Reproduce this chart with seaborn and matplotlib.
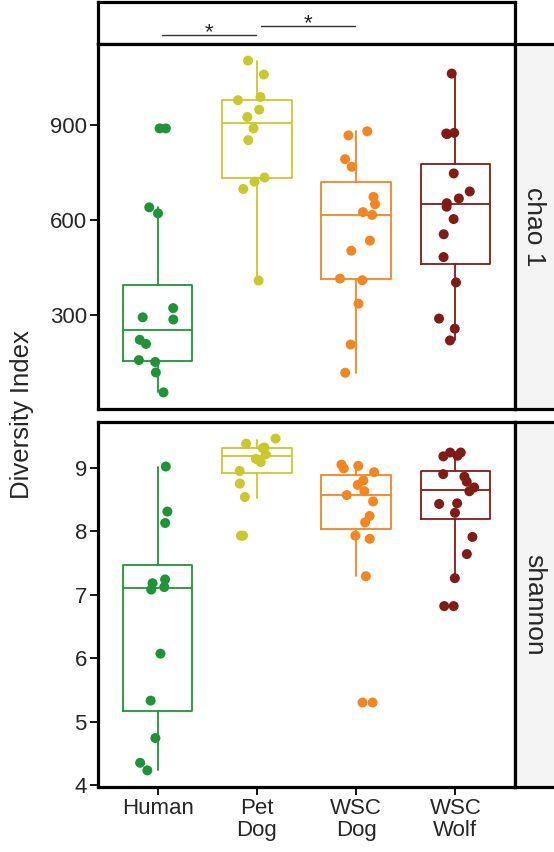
import numpy as np
import pandas as pd
import matplotlib
matplotlib.use('Agg')
import matplotlib.pyplot as plt
import seaborn as sns

# groups, labels and colours
groups = ['Human', 'Pet Dog', 'WSC Dog', 'WSC Wolf']
tick_labels = ['Human', 'Pet\nDog', 'WSC\nDog', 'WSC\nWolf']
colors = ['#1f9437', '#c9c92a', '#f5861f', '#821b16']
metrics = ['chao 1', 'shannon']

# chao 1 values per sample
human_chao1 = [890, 890, 641, 622, 323, 287, 294, 210, 223, 153, 159, 120, 57]
petdog_chao1 = [1104, 1060, 989, 979, 949, 926, 890, 853, 735, 722, 699, 410]
wscdog_chao1 = [881, 868, 793, 769, 674, 651, 626, 617, 536, 504, 416, 411, 337, 208, 119]
wscwolf_chao1 = [1063, 876, 874, 872, 748, 691, 669, 654, 643, 604, 556, 484, 404, 290, 258, 221]

# shannon values per sample
human_shannon = [9.02, 8.31, 8.13, 7.24, 7.18, 7.12, 7.08, 6.07, 5.33, 4.74, 4.35, 4.23]
petdog_shannon = [9.46, 9.38, 9.32, 9.31, 9.21, 9.14, 9.09, 8.95, 8.75, 8.54, 7.93, 7.93]
wscdog_shannon = [9.05, 9.03, 8.99, 8.93, 8.80, 8.73, 8.63, 8.57, 8.47, 8.24, 8.14, 7.93, 7.88, 7.29, 5.30, 5.30]
wscwolf_shannon = [9.24, 9.24, 9.19, 9.18, 8.90, 8.86, 8.78, 8.69, 8.63, 8.44, 8.43, 8.29, 7.91, 7.64, 7.26, 6.82, 6.82]

# box summaries as drawn (lower whisker, Q1, median, Q3, upper whisker)
chao1_lo = [57, 410, 119, 221]
chao1_q1 = [156, 732, 415, 463]
chao1_med = [255, 907, 618, 651]
chao1_q3 = [397, 981, 722, 777]
chao1_hi = [641, 1104, 881, 1063]

shannon_lo = [4.23, 8.53, 7.29, 7.26]
shannon_q1 = [5.17, 8.92, 8.03, 8.19]
shannon_med = [7.10, 9.18, 8.57, 8.65]
shannon_q3 = [7.46, 9.31, 8.88, 8.95]
shannon_hi = [9.02, 9.44, 9.05, 9.24]

# significance brackets above the chao 1 panel
comparisons = [('Human', 'Pet Dog'), ('Pet Dog', 'WSC Dog')]
sig_labels = ['*', '*']

chao1_ticks = [300, 600, 900]
shannon_ticks = [4, 5, 6, 7, 8, 9]

# long tables for seaborn
def long_table(series):
    rows = []
    for g, vals in zip(groups, series):
        for v in vals:
            rows.append({'group': g, 'value': v})
    return pd.DataFrame(rows)

df_chao1 = long_table([human_chao1, petdog_chao1, wscdog_chao1, wscwolf_chao1])
df_shannon = long_table([human_shannon, petdog_shannon, wscdog_shannon, wscwolf_shannon])

box_chao1 = [chao1_lo, chao1_q1, chao1_med, chao1_q3, chao1_hi]
box_shannon = [shannon_lo, shannon_q1, shannon_med, shannon_q3, shannon_hi]

sns.set_style('white')
plt.rcParams['font.family'] = ['Liberation Sans', 'DejaVu Sans']

fig = plt.figure(figsize=(5.54, 8.52), dpi=100)
W, H = 554, 852

def px_axes(x0, y0, x1, y1):
    return fig.add_axes([x0 / W, 1 - y1 / H, (x1 - x0) / W, (y1 - y0) / H])

ax_sig = px_axes(98, 2, 515, 44)
ax_top = px_axes(98, 44, 515, 409)
ax_bot = px_axes(98, 422, 515, 787)
strip_top = px_axes(515, 44, 560, 409)
strip_bot = px_axes(515, 422, 560, 787)

border = 2.3
np.random.seed(3)

for ax, df, box, ticks, strip, label in [
    (ax_top, df_chao1, box_chao1, chao1_ticks, strip_top, metrics[0]),
    (ax_bot, df_shannon, box_shannon, shannon_ticks, strip_bot, metrics[1]),
]:
    stats = []
    for i, g in enumerate(groups):
        stats.append({'whislo': box[0][i], 'q1': box[1][i], 'med': box[2][i],
                      'q3': box[3][i], 'whishi': box[4][i], 'label': g})
    bp = ax.bxp(stats, positions=range(len(groups)), widths=0.7,
                showfliers=False, showcaps=False, patch_artist=False)
    for i, c in enumerate(colors):
        bp['boxes'][i].set(color=c, linewidth=1.3)
        bp['medians'][i].set(color=c, linewidth=1.3)
        bp['whiskers'][2 * i].set(color=c, linewidth=1.3)
        bp['whiskers'][2 * i + 1].set(color=c, linewidth=1.3)

    sns.stripplot(data=df, x='group', y='value', hue='group', order=groups,
                  hue_order=groups, palette=colors, jitter=0.2, size=7.2,
                  linewidth=0, legend=False, native_scale=False, zorder=3, ax=ax)

    vmin, vmax = df['value'].min(), df['value'].max()
    pad = (vmax - vmin) * 0.05
    ax.set_ylim(vmin - pad, vmax + pad)
    ax.set_xlim(-0.6, len(groups) - 0.4)
    ax.set_yticks(ticks)
    ax.set_yticklabels([str(t) for t in ticks])
    ax.set_xlabel('')
    ax.set_ylabel('')
    ax.tick_params(axis='y', direction='out', length=6, width=1.3, color='black',
                   labelsize=16, pad=2, left=True)
    for s in ax.spines.values():
        s.set_linewidth(border)
        s.set_color('black')

    strip.set_facecolor('#f4f4f4')
    strip.set_xticks([])
    strip.set_yticks([])
    for s in strip.spines.values():
        s.set_linewidth(border)
        s.set_color('black')
    strip.text(0.42, 0.5, label, rotation=-90, ha='center', va='center',
               fontsize=19, transform=strip.transAxes)

ax_top.set_xticks([])
ax_bot.set_xticks(range(len(groups)))
ax_bot.set_xticklabels(tick_labels, linespacing=1.05)
ax_bot.tick_params(axis='x', direction='out', length=6, width=1.3, color='black',
                   labelsize=16, pad=2, bottom=True)

# significance panel
ax_sig.set_xlim(-0.6, len(groups) - 0.4)
ax_sig.set_ylim(0, 1)
ax_sig.set_xticks([])
ax_sig.set_yticks([])
for s in ax_sig.spines.values():
    s.set_linewidth(border)
    s.set_color('black')
levels = [0.21, 0.43]
for (a, b), lab, lev in zip(comparisons, sig_labels, levels):
    xa, xb = groups.index(a) + 0.04, groups.index(b) - 0.01
    ax_sig.plot([xa, xb], [lev, lev], color='#333333', linewidth=1.0)
    ax_sig.text((xa + xb) / 2, lev - 0.07, lab, ha='center', va='baseline',
                fontsize=16)

fig.text(22 / W, 1 - 415 / H, 'Diversity Index', rotation=90, ha='center',
         va='center', fontsize=18.5)

fig.savefig('out.png', dpi=100)
